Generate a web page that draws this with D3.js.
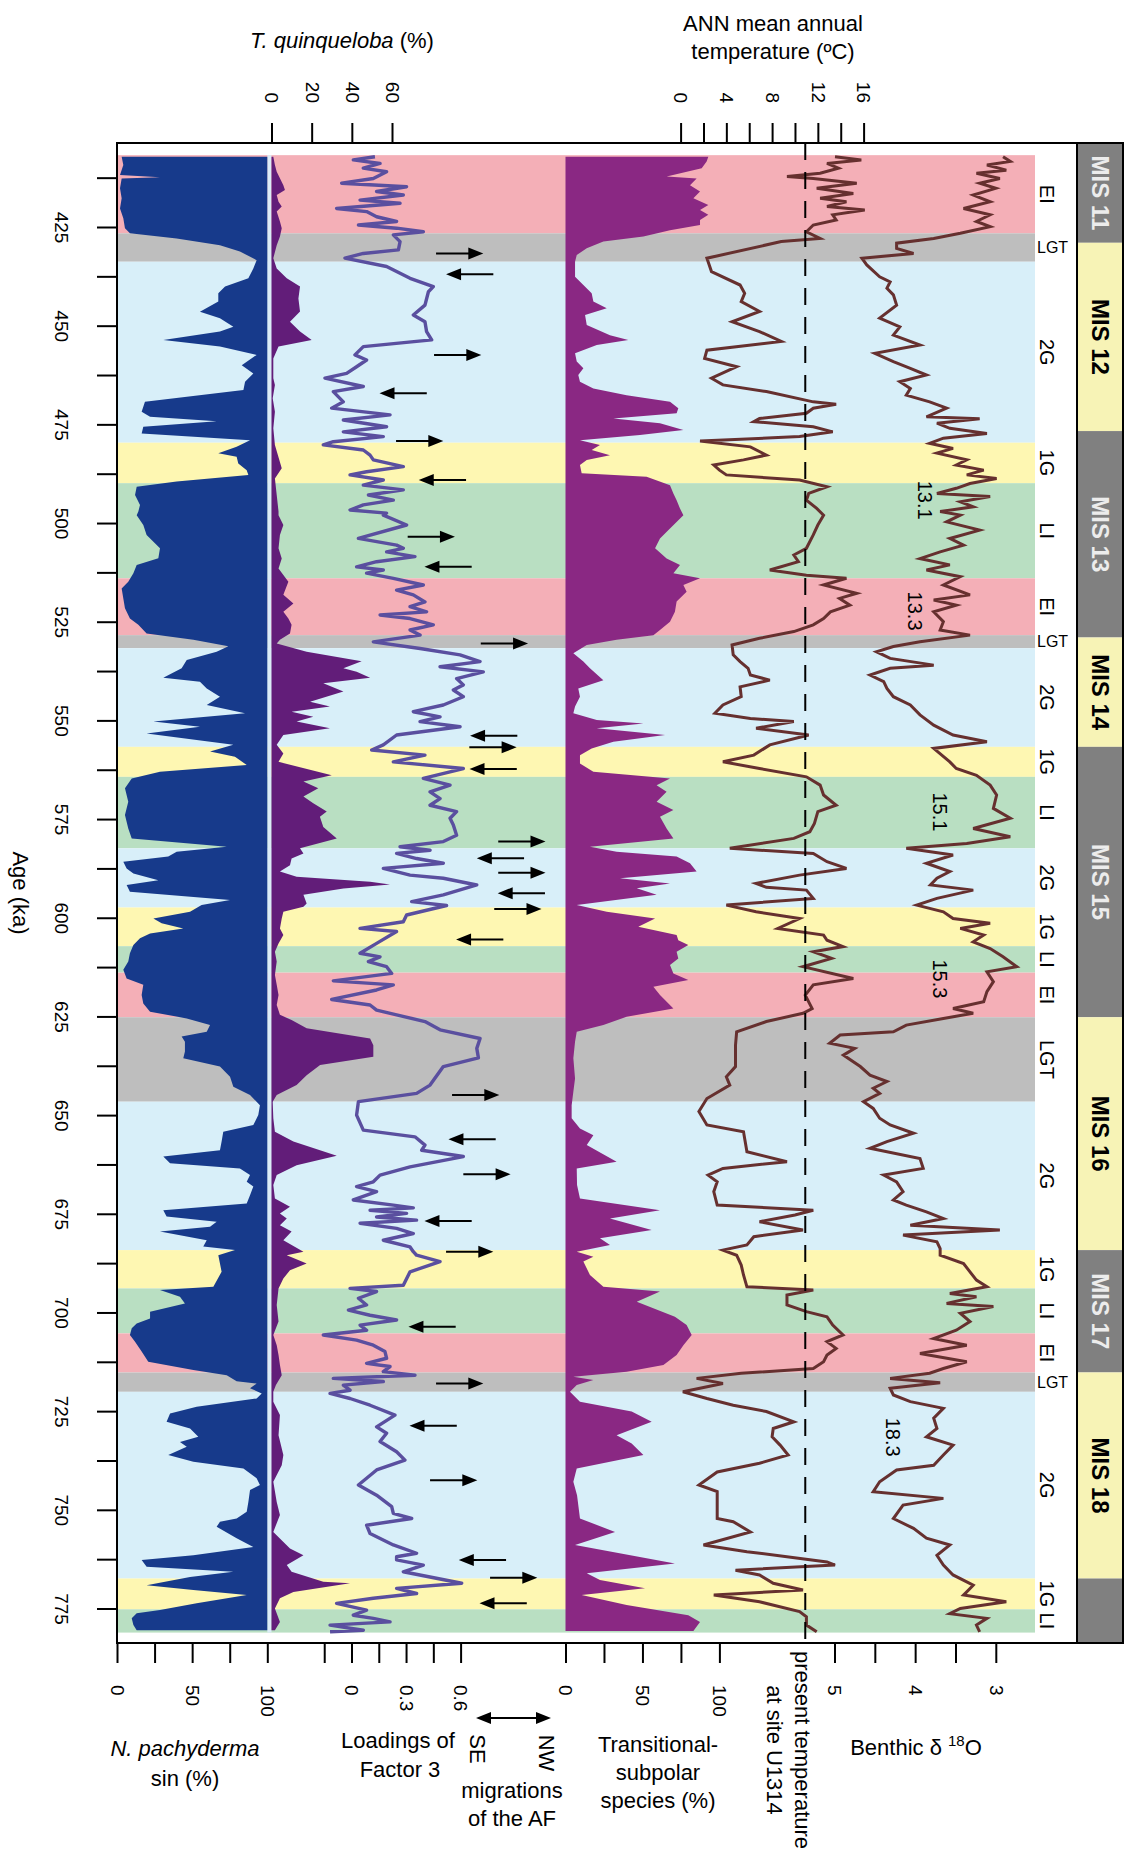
<!DOCTYPE html>
<html>
<head>
<meta charset="utf-8">
<script src="https://cdn.jsdelivr.net/npm/d3@7"></script>
<style>
  body { margin: 0; background: #fff; }
  svg { display: block; font-family: "Liberation Sans", Arial, Helvetica, sans-serif; }
</style>
</head>
<body>
<svg id="chart" width="1126" height="1854"></svg>
<script>
// ---------------------------------------------------------------
// Site U1314 records, 400-780 ka. Each record: [age (ka), value]
// ---------------------------------------------------------------

// N. pachyderma sin (%)
const nPachyderma = [
  [407.2,3.1],[409.3,4.2],[411.8,2],[412.4,28.6],[412.7,3.1],[415.2,2],[417.7,3.1],[420.3,2],[422.8,4.2],[425.3,5.3],
  [426.6,8.6],[427.9,39.7],[429.6,68.5],[431.2,81.8],[433.4,92.9],[435.5,90.7],[438.0,87.4],[440.1,71.9],[441.8,67.4],[443.9,67.4],
  [446.5,55.2],[448.1,68.5],[450.3,77.4],[451.5,68.5],[453.6,30.8],[455.3,68.5],[457.4,92.9],[460.0,83],[462.1,90.7],[464.2,85.2],
  [466.3,84.1],[469.3,18.6],[471.8,16.4],[473.1,22],[474.2,66.3],[475.6,17.5],[477.3,16.4],[479.0,88.5],[480.7,79.6],[482.3,67.4],
  [483.2,79.6],[484.9,80.7],[486.6,86.3],[487.8,87.4],[489.5,39.7],[490.8,13.1],[492.9,12],[495.4,15.3],[497.1,14.2],
  [498,13.1],[500.5,17.5],[503,19.7],[506.4,28.6],[508.9,27.5],[510.6,13.1],[512.7,10.9],[514.9,7.5],[516.6,3.1],[519.1,4.2],
  [521.6,5.3],[524.2,8.6],[525.8,14.2],[528,19.7],[529.6,50.8],[531.2,74.1],[532.6,66.3],[534.7,46.4],[536.8,43],[539.2,30.8],
  [540.2,55.2],[541.9,59.7],[544,68.5],[546.1,59.7],[548.2,85.2],[550.3,24.2],[551.6,55.2],[553.3,19.7],[556.2,77.4],[557.9,61.9],
  [559.2,78.5],[561.3,86.3],[563,28.6],[564.7,9.8],[567.2,5.3],[570.6,7.5],[574,5.3],[577.4,7.5],[579.9,9.8],[582,73],
  [583.3,39.7],[584.5,34.1],[585.8,4.2],[587.5,6.4],[588.8,10.9],[590.5,27.5],
  [591.7,6.4],[593.4,8.6],[595.5,75.2],[596.8,56.3],[598.5,48.6],[600.2,24.2],[601.4,29.7],[602.7,44.1],[604,22],[605.2,15.3],
  [606.9,10.9],[609,8.6],[611.1,7.5],[613.2,4.2],[615.4,6.4],[617,17.5],[619.6,16.4],[621.7,17.5],[623.8,22],[625.5,46.4],
  [627.2,61.9],[628.9,59.7],[630.1,43],[631.4,45.2],[633.9,45.2],[635.6,44.1],[637.7,68.5],[640.3,75.2],[642.8,77.4],[644.9,88.5],
  [647.5,95.1],[650,94],[652.5,90.7],[654.2,70.7],[656.7,69.6],[658.9,68.5],[660.5,30.8],[662.2,35.3],[663.5,81.8],[665.2,88.5],
  [666.9,86.3],[668.1,90.7],[670.3,88.5],[672.4,86.3],[674.1,30.8],[675.7,33],[677,66.3],[678.3,61.9],[679.5,28.6],[681.7,59.7],
  [683.3,57.4],[684.2,78.5],
  [685.5,67.4],[689.7,69.6],[693.5,64.1],[694.3,28.6],[696,41.9],[697.7,45.2],[699.8,22],[701.5,22],[702.8,13.1],[704,9.8],
  [705.7,8.6],[707.4,12],[709.9,16.4],[712.5,20.8],[714.6,50.8],[715.9,73],[717.4,79.6],[718,92.9],[719.2,88.5],[720.5,96.3],
  [721.8,92.9],[723.9,53],[725.6,35.3],[727.7,33],[729.4,48.6],[731.5,54.1],[732.8,41.9],[734,46.4],[736.1,34.1],[737.8,50.8],
  [739.5,84.1],[742,92.9],[743.7,95.1],[745,88.5],[748,87.4],[750.5,86.3],[752.2,79.6],[753,68.5],[754.3,66.3],[757.2,79.6],
  [759.4,90.7],[761.5,50.8],[762.7,16.4],[764.4,19.7],[765.7,77.4],[767,48.6],[769.1,19.7],[770.3,50.8],[771.6,86.3],[773.7,53],
  [775.4,28.6],[776.2,13.1],[777.5,9.8],[779.2,10.9],[780.5,13.1]
];

// T. quinqueloba (%)
const tQuinqueloba = [
  [407.2,0.9],[409.3,1.7],[411,2.6],[414.4,5.9],[415.6,6.7],[416.9,2.6],[418.6,3.5],[419.8,5.1],[421.1,2.6],[423.6,4.2],
  [425.3,5.1],[427.4,4.2],[429.6,2.6],[432.9,0.9],[435.5,2.6],[438,7.6],[440.1,14.2],[443.1,13.4],[446.4,14.2],[449,9.2],
  [451.5,14.2],[453.6,20],[455.3,3.5],[458.3,0.9],[463.3,0.9],[465,1.7],[468.4,0.6],[471.8,1.7],[476,0.9],[480.2,1.7],
  [486.1,5.1],[488.7,1.7],[492.9,2.6],[497.1,3.5],
  [498,3.5],[500.5,5.9],[503,4.2],[506.4,3.5],[509,5.1],[511.5,3.5],[514.9,8.4],[518.2,5.9],[520.4,10.9],[522.5,5.9],
  [524.2,8.4],[525.8,10],[528,9.2],[529.6,4.2],[530.5,2.6],[532.6,17.5],[535,44.9],[536.8,35.8],[537.7,42.4],[539.2,49.1],
  [540.6,25.8],[542.7,35.8],[545.3,19.2],[546.5,29.1],[547.8,10],[549.1,20.8],[550.3,12.5],[552,29.1],[553.7,5.9],[556.2,2.6],
  [558.4,5.9],[560.5,3.5],[563.9,30],[565.5,15.9],[567.2,23.3],[569.3,15.9],[571,20.8],[573.1,27.5],[574.4,24.1],[577,25.8],
  [579.9,32.5],[582.4,14.2],[583.7,15.9],[585,10],[586.7,9.2],[588.3,4.2],[589.6,12.5],[590.9,49.1],[591.6,59],
  [592.6,35.8],[594.2,15.9],[596.4,17.5],[597.2,15.9],[598.5,5.9],[600.2,5.1],[602.7,4.2],[604.4,5.9],[606.5,3.5],[608.6,1.7],
  [611.1,2.6],[614.5,1.7],[617,2.6],[619.6,3.5],[622.1,2.6],[624.6,4.2],[625.9,10],[628,17.5],[630.6,49.1],[632.3,50.7],
  [635.2,50.7],[637.3,24.2],[639.9,17.5],[642.4,12.5],[644.9,2.6],[646.6,0.6],[650.8,0.9],[654.2,1.7],[656.7,10.9],[660.3,32.5],
  [662.7,12.5],[665.2,2.6],[667.7,0.9],[671.1,1.7],[673.2,9.2],[674.9,4.2],[676.2,7.6],[677.9,4.2],[679.5,10],[681.7,5.9],
  [684.6,15.9],
  [685.5,7.6],[687.6,17.5],[689.3,9.2],[691.4,5.9],[693.9,3.5],[698.1,2.6],[702.3,3.5],[705.7,0.9],[708.3,2.6],[710.8,3.5],
  [713.3,4.2],[715.9,5.1],[718.4,2.2],[720.1,0.9],[722.6,0.9],[726,4.2],[731.1,3.5],[736.1,5.9],[738.7,5.1],[742.9,0.9],
  [748,2.6],[751.3,4.2],[755.6,0.9],[759.8,9.2],[761.5,15.9],[764,7.6],[765.7,10],[768.2,25.8],[768.6,39.1],[770.8,10.9],
  [772.4,4.2],[775,1.7],[778.4,4.2],[780.5,1.7]
];

// Loadings of Factor 3
const factor3 = [
  [407.2,0.129],[408.0,0.010],[408.9,0.157],[410.1,0.065],[411.0,0.193],[412.7,0.120],[413.9,-0.054],[414.8,0.303],[416.0,0.138],[416.9,0.285],
  [418.2,0.047],[419.0,0.267],[420.3,-0.082],[421.1,0.083],[422.4,0.138],[423.6,0.248],[424.5,0.038],[425.3,0.248],[426.2,0.395],[427.0,0.230],
  [428.7,0.267],[430.8,0.258],[431.7,0.065],[432.9,-0.036],[435.0,0.193],[438.0,0.322],[440.1,0.450],[441.4,0.423],[444.8,0.404],[447.3,0.340],
  [449.0,0.404],[451.5,0.413],[453.6,0.441],[455.3,0.065],[457.4,0.019],[458.7,0.083],[460.4,0.028],[462.1,-0.027],[463.3,-0.146],[465.4,0.065],
  [466.7,-0.100],[469.3,-0.045],[470.9,-0.109],[472.6,0.212],[473.9,-0.045],[475.6,0.193],[476.9,-0.045],[478.1,0.175],[479.4,-0.100],[480.2,-0.155],
  [481.5,0.065],[482.8,0.102],[484.0,0.120],[485.7,0.285],[487.0,0.083],[487.8,-0.008],[489.1,0.175],[490.4,0.065],[491.6,0.285],[492.9,0.093],
  [494.2,0.230],[495.4,0.065],[496.7,-0.008],[497.5,0.193],
  [498.0,0.175],[500.5,0.303],[503.9,0.038],[505.6,0.248],[506.4,0.285],[507.3,0.193],[508.5,0.349],[509.8,0.138],[511.1,0.028],[511.9,0.175],
  [512.7,0.083],[514.0,0.230],[515.7,0.395],[517.0,0.248],[518.2,0.340],[520.0,0.404],[521.2,0.322],[522.5,0.413],[523.3,0.157],[524.2,0.322],
  [525.8,0.450],[527.1,0.322],[528.4,0.377],[530.1,0.120],[531.8,0.377],[533.4,0.597],[535.1,0.707],[536.4,0.487],[537.7,0.725],[539.4,0.578],
  [541.0,0.615],[542.3,0.560],[544.0,0.615],[546.1,0.505],[547.8,0.340],[549.1,0.487],[550.3,0.377],[551.6,0.597],[553.7,0.248],[556.2,0.175],
  [557.5,0.111],[558.8,0.404],[560.5,0.230],[562.2,0.615],[564.7,0.395],[566.4,0.542],[568.1,0.432],[569.8,0.487],[571.5,0.432],[573.1,0.578],
  [574.8,0.542],[576.5,0.560],[579.1,0.578],[580.7,0.505],[582.0,0.267],[582.9,0.432],[583.7,0.248],[585.0,0.358],[586.2,0.505],[587.5,0.175],
  [589.2,0.322],[590.0,0.505],
  [591.7,0.689],[594.2,0.505],[595.9,0.331],[596.9,0.523],[599.3,0.303],[601.0,0.285],[602.7,0.047],[603.5,0.248],[606.5,0.138],[609.0,0.047],
  [609.9,0.157],[611.1,0.093],[612.4,0.193],[614.1,0.221],[616.0,-0.100],[617.0,0.230],[618.3,0.138],[620.7,-0.109],[622.1,0.102],[623.4,0.138],
  [624.6,0.248],[626.3,0.404],[628.4,0.487],[630.6,0.707],[633.1,0.689],[635.5,0.698],[637.7,0.505],[642.4,0.432],[644.5,0.358],[646.6,0.038],
  [650.0,0.028],[653.8,0.065],[655.5,0.349],[657.6,0.404],[658.9,0.386],[660.5,0.615],[663.1,0.322],[665.2,0.157],[666.9,0.120],[668.1,0.028],
  [669.4,0.138],[671.5,0.010],[672.8,0.230],[673.5,0.340],[674.1,0.102],[674.9,0.303],[675.8,0.138],[676.6,0.358],[677.4,0.047],[678.7,0.248],
  [680.0,0.340],[681.7,0.175],[683.4,0.322],[684.6,0.340],
  [685.5,0.358],[687.1,0.487],[689.7,0.322],[693.1,0.285],[693.9,-0.008],[694.7,0.138],[696.4,0.038],[698.1,0.083],[699.4,-0.017],[700.7,0.102],
  [701.9,0.248],[703.2,0.047],[704.5,0.083],[705.7,-0.155],[707.0,0.028],[708.3,0.120],[709.9,0.184],[711.6,0.193],[712.9,0.083],[713.7,0.212],
  [715.0,0.175],[715.9,0.349],[716.7,-0.100],[717.5,0.175],[718.4,-0.045],[719.7,-0.008],[720.5,-0.118],[721.8,-0.008],[723.5,0.102],[726.0,0.239],
  [729.0,0.138],[730.6,0.193],[732.7,0.157],[735.3,0.248],[737.4,0.294],[739.9,0.138],[743.7,0.038],[746.3,0.138],[749.2,0.221],[750.9,0.230],
  [752.2,0.331],[753.9,0.083],[756.0,0.102],[758.9,0.230],[761.0,0.358],[761.9,0.248],[762.7,0.248],[764.0,0.395],[765.7,0.285],[768.6,0.606],
  [769.9,0.248],[771.2,0.358],[772.4,0.120],[773.7,-0.082],[775.4,0.083],[776.7,0.010],[777.5,0.120],[778.4,0.212],[779.2,-0.118],[780.5,0.065],
  [780.9,-0.118]
];

// Transitional-subpolar species (%)
const transitional = [
  [407.2,92.8],[408.4,91.7],[410.1,88.5],[412.2,65.7],[412.7,85.2],[414.4,80.9],[416.0,87.4],[417.7,83.1],[419.4,92.8],[420.7,87.4],
  [421.9,92.8],[423.2,87.4],[424.5,87.4],[425.8,67.9],[427.4,50.6],[428.7,24.6],[430.4,13.8],[432.1,7.3],[433.8,6.2],[437.6,6.2],
  [439.7,11.6],[441.8,17],[443.9,18.1],[445.6,26.8],[447.3,12.7],[449.8,13.8],[452.4,28.9],[453.6,40.8],[454.9,20.3],[457.0,6.2],
  [459.1,7.3],[460.8,11.6],[462.5,8.3],[464.2,9.4],[465.9,18.1],[467.6,39.7],[469.3,67.9],[470.9,73.3],[472.2,72.2],[473.5,31.1],
  [474.7,61.4],[476.4,76.6],[477.7,48.4],[479.0,9.4],[480.2,22.4],[481.5,17],[482.8,28.9],[484.0,13.8],[485.3,9.4],[487.4,10.5],
  [488.3,52.7],[490.4,67.9],[492.5,70.1],[494.2,72.2],[496.3,74.4],
  [498.0,76.6],[501.4,67.9],[503.9,61.4],[506.4,58.2],[509.0,65.7],[510.6,74.4],[512.7,70.1],[514.0,87.4],[515.7,76.6],[517.4,78.7],
  [519.9,72.2],[522.5,71.1],[525.0,67.9],[527.1,61.4],[528.4,57.1],[529.6,33.2],[530.9,13.8],[533.0,5.1],[535.1,11.6],[536.8,15.9],
  [539.8,24.6],[541.9,8.3],[544.0,9.4],[546.5,6.2],[548.2,5.1],[549.9,20.3],[550.8,50.6],[552.0,20.3],[553.7,64.7],[555.4,31.1],
  [557.1,17],[558.8,9.4],[560.9,9.4],[563.0,18.1],[564.7,67.9],[566.4,59.2],[568.1,65.7],[570.6,59.2],[572.7,70.1],[574.4,61.4],
  [577.4,65.7],[579.9,70.1],[582.0,15.9],[583.3,33.2],[584.5,72.2],[586.2,80.9],[588.3,85.2],[590.0,35.4],[591.3,67.9],
  [592.5,46.3],[594.2,59.2],[596.8,7.3],[598.5,26.8],[600.2,58.2],[602.3,47.3],[604.4,72.2],[605.7,73.3],[606.9,79.8],[608.6,72.2],
  [610.3,73.3],[612.0,67.9],[614.1,70.1],[615.8,79.8],[617.5,57.1],[619.6,61.4],[623.0,70.1],[625.1,39.7],[627.2,24.6],[628.9,7.3],
  [631.4,6.2],[635.6,5.1],[640.7,6.2],[644.1,5.1],[647.5,4],[650.8,4],[653.4,9.4],[655.1,18.1],[657.6,13.8],[661.8,33.2],
  [663.5,7.3],[667.7,7.5],[671.1,9.4],[674.1,61.4],[676.2,28.9],[679.1,56],[681.2,22.4],[682.9,28.9],[684.6,7.3],
  [685.9,18.1],[687.1,11.6],[690.5,15.9],[693.5,24.6],[694.7,61.4],[697.3,46.3],[701.1,71.1],[703.2,78.7],[705.7,82],[708.3,76.6],
  [710.8,72.2],[713.3,63.6],[715.0,39.7],[716.3,5.1],[717.1,18.1],[718.4,7.3],[720.1,2.9],[722.6,9.4],[725.1,43],[727.7,56],
  [731.1,33.2],[733.2,43],[736.1,50.6],[739.5,7.3],[742.9,5.1],[746.3,7.5],[752.2,9.4],[755.6,32.2],[758.9,6.2],[763.6,71.1],
  [766.1,13.8],[767.8,22.4],[769.9,51.7],[771.6,10.5],[774.1,39.7],[776.7,79.8],[778.4,87.4],[780.7,83.1]
];

// ANN mean annual temperature (ºC)
const annTemperature = [
  [407.2,13.5],[408.0,15.8],[408.9,12.8],[410.1,13.8],[411.4,12.2],[412.2,9.3],[412.7,11.6],[413.9,15.4],[415.2,11.9],[416.5,15.1],
  [417.7,12.2],[418.6,14.5],[419.8,12.8],[420.7,16.1],[421.9,13.3],[423.2,13.6],[424.5,11.6],[426.2,11.0],[427.9,12.2],[428.7,8.8],
  [432.9,2.3],[436.3,2.7],[439.7,5.2],[441.8,5.6],[443.9,5.3],[446.4,6.9],[449.0,4.5],[451.5,6.9],[454.0,8.8],[456.2,2.3],
  [458.3,2.1],[460.4,4.9],[463.3,2.7],[465.0,3.7],[466.7,7.5],[469.3,11.6],[469.9,13.6],[470.9,11.6],[472.2,11.0],[473.5,6.9],
  [474.3,6.4],[475.6,11.6],[476.9,13.3],[478.1,10.4],[479.2,1.7],[480.7,6.1],[482.8,7.5],[484.0,5.5],[485.3,2.9],[486.6,3.4],
  [487.8,4.0],[489.1,10.4],[490.8,12.8],[492.5,11.2],[494.2,11.0],[496.3,11.9],
  [498.0,12.5],[500.5,12.0],[503.0,11.6],[506.4,11.0],[508.1,9.9],[509.8,10.3],[511.9,7.8],[513.2,11.0],[514.0,14.5],[515.7,12.5],
  [517.8,15.4],[519.1,13.9],[520.8,14.8],[522.5,13.1],[524.2,12.5],[525.8,11.6],[527.5,9.9],[529.2,6.9],[530.9,4.5],[533.4,4.6],
  [535.1,5.2],[536.8,5.9],[538.5,6.1],[539.8,7.8],[541.5,5.2],[544.0,5.3],[546.1,3.7],[548.2,3.0],[549.5,6.1],[550.3,9.9],
  [552.0,6.6],[553.7,11.2],[556.2,7.8],[558.8,6.4],[560.5,3.7],[562.2,6.9],[564.3,11.0],[566.4,12.2],[568.9,12.5],[571.5,13.6],
  [573.1,12.0],[576.1,11.7],[578.2,11.3],[579.9,9.9],[582.4,4.3],[583.7,11.6],[585.8,12.8],[587.5,14.5],[589.2,10.4],[591.3,6.6],
  [592.3,7.5],[593.0,11.0],[595.1,11.6],[596.8,4.0],[598.5,6.6],[600.2,10.4],[602.7,8.5],[604.4,12.5],[605.7,12.8],[607.3,14.2],
  [608.6,11.6],[610.3,13.2],[612.4,10.7],[615.4,15.1],[617.0,11.6],[619.6,10.9],[623.0,11.5],[624.2,10.7],[626.3,7.5],[628.9,4.9],
  [632.3,4.8],[637.7,4.8],[640.3,4.0],[642.4,4.3],[645.8,2.3],[649.1,1.6],[652.5,2.3],[654.2,5.5],[655.9,5.6],[659.3,5.8],
  [661.8,9.3],[663.5,3.7],[665.2,2.4],[666.9,3.2],[669.4,2.9],[672.8,3.2],[674.1,11.6],[675.3,10.0],[677.0,6.9],[679.1,10.7],
  [680.8,6.4],[682.9,5.8],[684.2,3.7],
  [685.5,4.9],[688.0,5.3],[690.5,5.5],[693.5,5.8],[694.3,11.6],[695.6,9.3],[698.1,9.3],[699.8,11.0],[701.1,12.8],[703.2,13.3],
  [705.7,14.2],[707.4,12.8],[709.1,13.6],[710.8,12.8],[712.5,12.5],[714.2,11.6],[715.4,5.3],[716.7,1.4],[718.0,3.7],[720.1,0.2],
  [721.8,2.3],[723.5,4.6],[725.1,7.5],[727.7,9.9],[729.4,8.1],[731.5,8.0],[733.6,8.7],[736.1,9.4],[738.2,6.9],[740.4,3.2],
  [743.7,1.6],[745.4,3.2],[748.8,3.2],[752.2,3.2],[753.0,4.6],[755.6,6.1],[758.9,2.0],[760.6,5.8],[763.2,12.8],[764.0,13.5],
  [765.3,4.8],[766.5,6.9],[768.6,8.1],[770.3,10.7],[771.6,2.9],[773.3,6.9],[775.8,10.4],[777.1,11.0],[779.2,11.0],[780.9,11.9]
];

// Benthic δ18O (‰)
const benthicD18O = [
  [407.2,2.91],[408.4,2.82],[409.3,3.11],[410.6,2.87],[411.4,3.24],[412.7,2.95],[413.9,3.20],[415.2,3.0],[416.9,3.28],[418.6,3.07],
  [420.3,3.40],[421.9,3.07],[423.6,3.24],[424.9,3.07],[426.6,3.44],[427.9,3.77],[429.1,4.23],[430.4,4.23],[431.7,4.02],[432.9,4.66],
  [434.6,4.60],[437.6,4.44],[438.9,4.31],[440.5,4.35],[442.2,4.27],[444.8,4.23],[448.1,4.44],[450.3,4.19],[452.4,4.27],[454.9,3.94],
  [457.0,4.50],[459.1,4.27],[460.8,4.06],[462.5,3.86],[464.2,4.19],[465.9,4.06],[467.6,4.11],[469.3,3.82],[470.9,3.61],[473.1,3.86],
  [473.6,3.20],[474.7,3.73],[476.0,3.57],[477.3,3.11],[478.5,3.65],[479.8,3.82],[481.1,3.53],[482.3,3.73],[484.0,3.36],[485.3,3.49],
  [486.6,3.15],[487.8,3.36],[488.7,2.99],[490.0,3.32],[491.2,3.49],[492.5,3.73],[493.3,3.07],[494.6,3.44],[495.9,3.28],[497.1,3.69],
  [498.0,3.44],[499.7,3.61],[501.8,3.20],[503.9,3.57],[505.6,3.40],[507.3,3.69],[509.0,3.94],[510.6,3.57],[511.9,3.86],[513.6,3.44],
  [515.7,3.65],[518.2,3.32],[519.5,3.77],[520.8,3.49],[522.5,3.77],[525.0,3.65],[527.1,3.69],[528.4,3.32],[530.1,3.94],[531.3,4.27],
  [532.6,4.48],[534.3,4.31],[536.0,3.77],[536.8,4.31],[538.5,4.56],[540.2,4.39],[541.9,4.35],[544.0,4.27],[546.1,4.06],[548.6,3.94],
  [551.2,3.77],[553.7,3.53],[555.4,3.11],[557.1,3.77],[560.5,3.57],[562.2,3.49],[563.9,3.24],[566.4,3.07],[568.9,2.99],[572.3,3.03],
  [574.8,2.82],[577.4,3.28],[579.5,2.82],[581.2,3.36],[582.4,4.11],[584.1,3.53],[586.2,3.86],[588.3,3.57],[590.0,3.73],
  [591.7,3.81],[593.0,3.28],[595.1,3.73],[596.8,3.98],[598.5,3.65],[600.2,3.53],[601.4,3.07],[602.7,3.44],[604.4,3.15],[606.1,3.28],
  [607.8,3.07],[609.9,2.91],[612.4,2.74],[613.7,3.11],[616.2,3.03],[618.7,3.11],[621.3,3.15],[623.0,3.53],[624.2,3.28],[625.5,3.65],
  [627.2,4.11],[628.9,4.27],[629.7,4.93],[631.8,5.06],[633.1,4.75],[634.8,4.89],[637.7,4.68],[639.9,4.56],[641.5,4.35],[643.2,4.52],
  [644.5,4.44],[646.6,4.64],[648.3,4.52],[650.8,4.44],[652.5,4.31],[654.6,4.02],[656.7,4.35],[658.4,4.56],[661.0,3.94],[663.5,3.90],
  [665.2,4.39],[666.9,4.23],[669.4,4.15],[671.5,4.27],[672.8,4.11],[674.5,3.86],[676.2,3.65],[677.9,4.06],[679.1,2.95],[680.4,4.15],
  [682.1,3.73],[683.8,3.69],
  [685.5,3.69],[687.6,3.40],[689.7,3.32],[691.8,3.24],[693.5,3.11],[695.2,3.57],[696.0,3.24],[697.7,3.61],[698.5,3.03],[700.2,3.44],
  [702.3,3.32],[704.5,3.49],[706.6,3.77],[708.3,3.36],[710.4,3.94],[712.5,3.36],[714.2,3.65],[715.4,3.82],[716.7,4.31],[717.8,3.69],
  [719.2,4.31],[720.9,4.27],[722.6,4.06],[724.3,3.65],[726.8,3.77],[729.4,3.73],[731.5,3.86],[733.6,3.53],[736.1,3.65],[738.7,3.77],
  [739.9,4.23],[742.9,4.44],[745.4,4.52],[747.1,3.65],[748.8,4.15],[752.2,4.27],[754.7,4.02],[757.2,3.86],[758.9,3.57],[761.5,3.73],
  [764.0,3.65],[766.5,3.53],[769.1,3.28],[771.6,3.40],[773.3,2.87],[775.0,3.44],[776.3,3.57],[777.5,3.11],[779.2,3.24],[780.9,3.20]
];

// Climatic sub-stages: code and top (youngest) age of each interval, ka
const stageCodes = ["EI","LGT","2G","1G","LI","EI","LGT","2G","1G","LI","2G","1G","LI","EI","LGT","2G","1G","LI","EI","LGT","2G","1G","LI"];
const stageTops  = [406.8,426.6,433.8,479.65,489.9,514.0,528.4,531.7,556.7,564.3,582.4,597.4,607.2,613.9,625.2,646.6,684.2,693.9,705.3,715.2,720.1,767.4,775.2];
const stageBase  = 781.1;

// Marine isotope stages: name and top age, ka
const misNames = ["MIS 11","MIS 12","MIS 13","MIS 14","MIS 15","MIS 16","MIS 17","MIS 18",""];
const misTops  = [403.7,429.0,476.7,529.0,556.7,625.2,684.2,715.2,767.4];
const misBase  = 783.7;

// Migrations of the Arctic Front: [age, Factor 3 loading at arrow tail, 1 = NW, -1 = SE]
const afMigrations = [
  [431.7,0.465,1],[437.0,0.780,-1],[457.4,0.454,1],[467.1,0.414,-1],[479.2,0.245,1],[489.1,0.630,-1],
  [503.5,0.309,1],[511.1,0.661,-1],[530.5,0.711,1],[553.9,0.912,-1],[556.8,0.648,1],[562.3,0.909,-1],
  [580.7,0.807,1],[584.9,0.949,-1],[588.6,0.807,1],[593.8,1.064,-1],[597.8,0.785,1],[605.5,0.835,-1],
  [644.9,0.553,1],[656.1,0.793,-1],[665.0,0.615,1],[676.8,0.661,-1],[684.6,0.520,1],[703.6,0.573,-1],
  [718.0,0.465,1],[728.7,0.579,-1],[742.5,0.432,1],[762.7,0.850,-1],[767.2,0.762,1],[773.7,0.964,-1]
];

// Isotopic substage labels: [label, age, δ18O]
const isotopeEvents = [["13.1",494.2,3.88],["13.3",522.3,4.0],["15.1",573.2,3.69],["15.3",615.5,3.69],["18.3",731.6,4.27]];

// Present-day mean annual temperature at site U1314 (ºC)
const presentTemp = 10.9;

// Axis ticks and their labels
const ageTicks       = [412.5,425,437.5,450,462.5,475,487.5,500,512.5,525,537.5,550,562.5,575,587.5,600,612.5,625,637.5,650,662.5,675,687.5,700,712.5,725,737.5,750,762.5,775];
const ageTickLabels  = ["","425","","450","","475","","500","","525","","550","","575","","600","","625","","650","","675","","700","","725","","750","","775"];
const pctTicks       = [0,25,50,75,100];
const pctTickLabels  = ["0","","50","","100"];
const quinqTicks     = [0,20,40,60];
const quinqTickLabels= ["0","20","40","60"];
const loadTicks      = [-0.15,0,0.15,0.3,0.45,0.6];
const loadTickLabels = ["","0","","0.3","","0.6"];
const tempTicks      = [0,2,4,6,8,10,12,14,16];
const tempTickLabels = ["0","","4","","8","","12","","16"];
const d18oTicks      = [5,4.5,4,3.5,3];
const d18oTickLabels = ["5","","4","","3"];

// ---------------------------------------------------------------
// Layout
// ---------------------------------------------------------------
const svg = d3.select("#chart");
const frame = { left: 117, right: 1077, top: 143, bottom: 1643 };
const bandRight = 1035;

const y       = d3.scaleLinear().domain([425, 775]).range([227, 1608.5]);
const xPachy  = d3.scaleLinear().domain([0, 100]).range([117, 267.3]);
const xQuinq  = d3.scaleLinear().domain([0, 60]).range([271.5, 392]);
const xLoad   = d3.scaleLinear().domain([0, 0.6]).range([351.5, 460.6]);
const xTrans  = d3.scaleLinear().domain([0, 100]).range([565.5, 719.4]);
const xTemp   = d3.scaleLinear().domain([0, 16]).range([680.6, 863.6]);
const xD18O   = d3.scaleLinear().domain([5, 3]).range([834.5, 995.8]);

const stageFill = { EI: "#f4afb7", LGT: "#bebebe", "2G": "#d8eff9", "1G": "#fef7b2", LI: "#b9dfc2" };
const colPachy = "#173a8b", colQuinq = "#621d79", colTrans = "#8a2883",
      colLoad = "#5a4f9f", colBrown = "#66302f";

// Rotated (top-to-bottom) text helper
function vtext(parent, x, yy, str, anchor, size) {
  return parent.append("text")
    .attr("transform", `translate(${x},${yy}) rotate(90)`)
    .attr("text-anchor", anchor)
    .attr("dy", "0.35em")
    .attr("font-size", size)
    .attr("fill", "#000")
    .text(str);
}

// --- sub-stage background bands
const gBands = svg.append("g");
stageTops.forEach((t, i) => {
  const b = i < stageTops.length - 1 ? stageTops[i + 1] : stageBase;
  gBands.append("rect")
    .attr("x", frame.left).attr("width", bandRight - frame.left)
    .attr("y", y(t)).attr("height", y(b) - y(t))
    .attr("fill", stageFill[stageCodes[i]]);
});

// separator between the two foraminifera panels
svg.append("rect")
  .attr("x", xPachy(100)).attr("width", xQuinq(0) - xPachy(100))
  .attr("y", y(stageTops[0])).attr("height", y(stageBase) - y(stageTops[0]))
  .attr("fill", "#dbecf7");

// --- filled records
svg.append("path").datum(nPachyderma)
  .attr("fill", colPachy)
  .attr("d", d3.area().y(d => y(d[0])).x0(xPachy(100)).x1(d => xPachy(d[1])));

svg.append("path").datum(tQuinqueloba)
  .attr("fill", colQuinq)
  .attr("d", d3.area().y(d => y(d[0])).x0(xQuinq(0)).x1(d => xQuinq(d[1])));

svg.append("path").datum(transitional)
  .attr("fill", colTrans)
  .attr("d", d3.area().y(d => y(d[0])).x0(xTrans(0)).x1(d => xTrans(d[1])));

// --- line records
const lineOf = xs => d3.line().x(d => xs(d[1])).y(d => y(d[0]));
svg.append("path").datum(factor3)
  .attr("fill", "none").attr("stroke", colLoad).attr("stroke-width", 3.4)
  .attr("stroke-linejoin", "round").attr("d", lineOf(xLoad));
svg.append("path").datum(annTemperature)
  .attr("fill", "none").attr("stroke", colBrown).attr("stroke-width", 3)
  .attr("stroke-linejoin", "miter").attr("d", lineOf(xTemp));
svg.append("path").datum(benthicD18O)
  .attr("fill", "none").attr("stroke", colBrown).attr("stroke-width", 3)
  .attr("stroke-linejoin", "miter").attr("d", lineOf(xD18O));

// present temperature at the site
svg.append("line")
  .attr("x1", xTemp(presentTemp)).attr("x2", xTemp(presentTemp))
  .attr("y1", frame.top).attr("y2", frame.bottom)
  .attr("stroke", "#000").attr("stroke-width", 2).attr("stroke-dasharray", "17,12");

// --- Arctic Front migration arrows
const arrowSpan = 0.26, headLen = 15, headHalf = 6;
const gArrows = svg.append("g");
afMigrations.forEach(([age, tail, dir]) => {
  const x0 = xLoad(tail), x1 = xLoad(tail + dir * arrowSpan), yy = y(age);
  gArrows.append("line")
    .attr("x1", x0).attr("x2", x1 - dir * headLen * 0.8)
    .attr("y1", yy).attr("y2", yy)
    .attr("stroke", "#000").attr("stroke-width", 2);
  gArrows.append("path")
    .attr("d", `M${x1},${yy} L${x1 - dir * headLen},${yy - headHalf} L${x1 - dir * headLen},${yy + headHalf} Z`)
    .attr("fill", "#000");
});

// --- isotope substage labels
isotopeEvents.forEach(([lab, age, v]) => vtext(svg, xD18O(v), y(age), lab, "middle", 20));

// --- frame
svg.append("rect")
  .attr("x", frame.left).attr("y", frame.top)
  .attr("width", frame.right - frame.left).attr("height", frame.bottom - frame.top)
  .attr("fill", "none").attr("stroke", "#000").attr("stroke-width", 2);

// --- axes
function finishAxis(g) {
  g.select(".domain").remove();
  g.selectAll(".tick line").attr("stroke", "#000").attr("stroke-width", 2);
  g.selectAll(".tick text").attr("fill", "#000").attr("font-size", 19)
    .attr("font-family", "Liberation Sans, Arial, sans-serif");
}
function bottomAxis(scale, ticks, labels) {
  const g = svg.append("g").attr("transform", `translate(0,${frame.bottom})`)
    .call(d3.axisBottom(scale).tickValues(ticks).tickSize(20).tickFormat((d, i) => labels[i]));
  finishAxis(g);
  g.selectAll(".tick text").attr("x", null).attr("y", null).attr("dy", "0.35em")
    .attr("text-anchor", "start").attr("transform", "translate(0,42) rotate(90)");
}
function topAxis(scale, ticks, labels) {
  const g = svg.append("g").attr("transform", `translate(0,${frame.top})`)
    .call(d3.axisTop(scale).tickValues(ticks).tickSize(20).tickFormat((d, i) => labels[i]));
  finishAxis(g);
  g.selectAll(".tick text").attr("x", null).attr("y", null).attr("dy", "0.35em")
    .attr("text-anchor", "end").attr("transform", "translate(0,-40) rotate(90)");
}
bottomAxis(xPachy, pctTicks, pctTickLabels);
bottomAxis(xLoad, loadTicks, loadTickLabels);
bottomAxis(xTrans, pctTicks, pctTickLabels);
bottomAxis(xD18O, d18oTicks, d18oTickLabels);
topAxis(xQuinq, quinqTicks, quinqTickLabels);
topAxis(xTemp, tempTicks, tempTickLabels);

const gAge = svg.append("g").attr("transform", `translate(${frame.left},0)`)
  .call(d3.axisLeft(y).tickValues(ageTicks).tickSize(20).tickFormat((d, i) => ageTickLabels[i]));
finishAxis(gAge);
gAge.selectAll(".tick text").attr("x", null).attr("y", null).attr("dy", "0.35em")
  .attr("text-anchor", "middle").attr("transform", "translate(-55,0) rotate(90)");

// --- sub-stage labels (short terminations are written across the column)
const gStage = svg.append("g");
stageTops.forEach((t, i) => {
  const b = i < stageTops.length - 1 ? stageTops[i + 1] : stageBase;
  const h = y(b) - y(t), cy = (y(t) + y(b)) / 2;
  if (stageCodes[i] === "LGT" && h < 40) {
    gStage.append("text").attr("x", 1037).attr("y", cy).attr("dy", "0.35em")
      .attr("font-size", 16).attr("fill", "#000").text(stageCodes[i]);
  } else {
    vtext(gStage, 1047, cy, stageCodes[i], "middle", 20);
  }
});

// --- marine isotope stage column
const gMis = svg.append("g");
const misX = 1077, misW = 46;
misTops.forEach((t, i) => {
  const b = i < misTops.length - 1 ? misTops[i + 1] : misBase;
  const y0 = Math.max(y(t), frame.top), y1 = Math.min(y(b), frame.bottom);
  const glacial = i % 2 === 1;
  gMis.append("rect").attr("x", misX).attr("width", misW).attr("y", y0).attr("height", y1 - y0)
    .attr("fill", glacial ? "#f7f3b6" : "#808080");
  if (misNames[i]) {
    vtext(gMis, misX + misW / 2, (y0 + y1) / 2, misNames[i], "middle", 24)
      .attr("font-weight", "bold").attr("fill", glacial ? "#000" : "#ececec");
  }
});
gMis.append("rect").attr("x", misX).attr("y", frame.top).attr("width", misW)
  .attr("height", frame.bottom - frame.top).attr("fill", "none").attr("stroke", "#000").attr("stroke-width", 2);

// --- titles
const title = (x, yy, str, opts = {}) => {
  const t = svg.append("text").attr("x", x).attr("y", yy).attr("text-anchor", "middle")
    .attr("font-size", 22).attr("fill", "#000");
  if (opts.italic) t.attr("font-style", "italic");
  return t.text(str);
};
const tq = svg.append("text").attr("x", 342).attr("y", 48).attr("text-anchor", "middle").attr("font-size", 22);
tq.append("tspan").attr("font-style", "italic").text("T. quinqueloba");
tq.append("tspan").text(" (%)");
title(773, 31, "ANN mean annual");
title(773, 59, "temperature (ºC)");
vtext(svg, 21, 893, "Age (ka)", "middle", 22);

title(185, 1756, "N. pachyderma", { italic: true });
title(185, 1786, "sin (%)");
title(398, 1748, "Loadings of");
title(400, 1777, "Factor 3");
title(512, 1798, "migrations");
title(512, 1826, "of the AF");
title(658, 1752, "Transitional-");
title(658, 1780, "subpolar");
title(658, 1808, "species (%)");

// double arrow legend for the front migrations
const legY = 1718, legL = 476, legR = 551;
svg.append("line").attr("x1", legL + 12).attr("x2", legR - 12).attr("y1", legY).attr("y2", legY)
  .attr("stroke", "#000").attr("stroke-width", 2);
svg.append("path").attr("d", `M${legL},${legY} L${legL + 15},${legY - 6} L${legL + 15},${legY + 6} Z`).attr("fill", "#000");
svg.append("path").attr("d", `M${legR},${legY} L${legR - 15},${legY - 6} L${legR - 15},${legY + 6} Z`).attr("fill", "#000");
vtext(svg, 478, 1749, "SE", "middle", 22);
vtext(svg, 547, 1753, "NW", "middle", 22);

vtext(svg, 803, 1750, "present temperature", "middle", 22);
vtext(svg, 775, 1750, "at site U1314", "middle", 22);

const bt = svg.append("text").attr("x", 916).attr("y", 1755).attr("text-anchor", "middle").attr("font-size", 22);
bt.append("tspan").text("Benthic δ ");
bt.append("tspan").attr("font-size", 15).attr("dy", -9).text("18");
bt.append("tspan").attr("dy", 9).text("O");
</script>
</body>
</html>
